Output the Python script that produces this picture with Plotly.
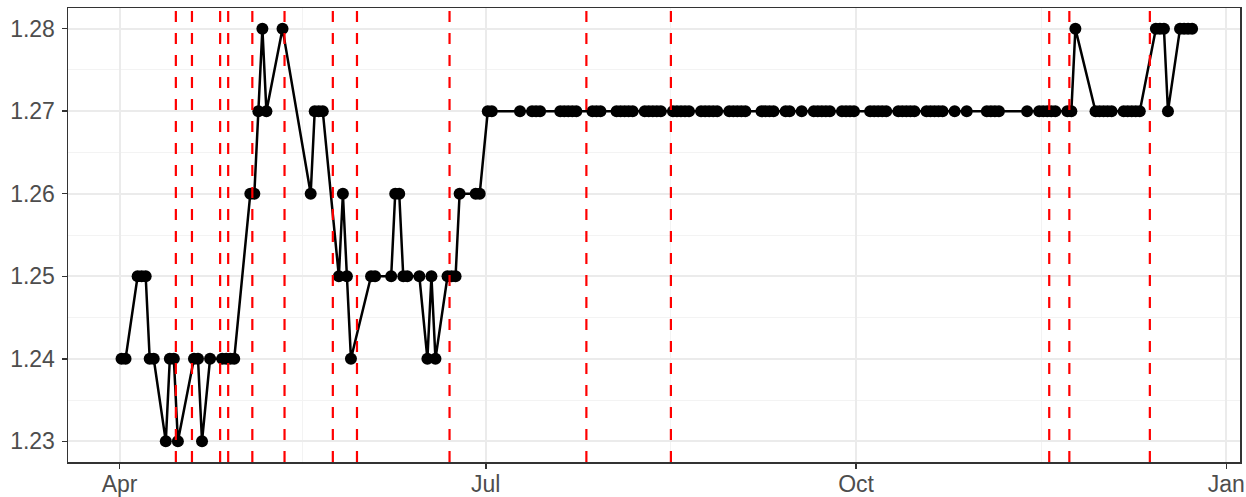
import pandas as pd
import plotly.graph_objects as go

# ---- data ----
dates = [
    "2021-04-01", "2021-04-02", "2021-04-05", "2021-04-06", "2021-04-07",
    "2021-04-08", "2021-04-09", "2021-04-12", "2021-04-13", "2021-04-14",
    "2021-04-15", "2021-04-19", "2021-04-20", "2021-04-21", "2021-04-23",
    "2021-04-26", "2021-04-27", "2021-04-28", "2021-04-29",
    "2021-05-03", "2021-05-04", "2021-05-05", "2021-05-06", "2021-05-07",
    "2021-05-11", "2021-05-18", "2021-05-19", "2021-05-20", "2021-05-21",
    "2021-05-25", "2021-05-26", "2021-05-27", "2021-05-28",
    "2021-06-02", "2021-06-03", "2021-06-07", "2021-06-08", "2021-06-09",
    "2021-06-10", "2021-06-11", "2021-06-14", "2021-06-16", "2021-06-17",
    "2021-06-18", "2021-06-21", "2021-06-22", "2021-06-23", "2021-06-24",
    "2021-06-28", "2021-06-29",
    "2021-07-01", "2021-07-02", "2021-07-09", "2021-07-12", "2021-07-13",
    "2021-07-14", "2021-07-19", "2021-07-20", "2021-07-21", "2021-07-22",
    "2021-07-23", "2021-07-27", "2021-07-28", "2021-07-29",
    "2021-08-02", "2021-08-03", "2021-08-04", "2021-08-05", "2021-08-06",
    "2021-08-09", "2021-08-10", "2021-08-11", "2021-08-12", "2021-08-13",
    "2021-08-16", "2021-08-17", "2021-08-18", "2021-08-19", "2021-08-20",
    "2021-08-23", "2021-08-24", "2021-08-25", "2021-08-26", "2021-08-27",
    "2021-08-30", "2021-08-31", "2021-09-01", "2021-09-02", "2021-09-03",
    "2021-09-07", "2021-09-08", "2021-09-09", "2021-09-10",
    "2021-09-13", "2021-09-14", "2021-09-17",
    "2021-09-20", "2021-09-21", "2021-09-22", "2021-09-23", "2021-09-24",
    "2021-09-27", "2021-09-28", "2021-09-29", "2021-09-30",
    "2021-10-04", "2021-10-05", "2021-10-06", "2021-10-07", "2021-10-08",
    "2021-10-11", "2021-10-12", "2021-10-13", "2021-10-14", "2021-10-15",
    "2021-10-18", "2021-10-19", "2021-10-20", "2021-10-21", "2021-10-22",
    "2021-10-25", "2021-10-28",
    "2021-11-02", "2021-11-03", "2021-11-04", "2021-11-05", "2021-11-12",
    "2021-11-15", "2021-11-16", "2021-11-17", "2021-11-18", "2021-11-19",
    "2021-11-22", "2021-11-23", "2021-11-24",
    "2021-11-29", "2021-11-30", "2021-12-01", "2021-12-02", "2021-12-03",
    "2021-12-06", "2021-12-07", "2021-12-08", "2021-12-09", "2021-12-10",
    "2021-12-14", "2021-12-15", "2021-12-16", "2021-12-17",
    "2021-12-20", "2021-12-21", "2021-12-22", "2021-12-23",
]

values = [
    1.24, 1.24, 1.25, 1.25, 1.25,
    1.24, 1.24, 1.23, 1.24, 1.24,
    1.23, 1.24, 1.24, 1.23, 1.24,
    1.24, 1.24, 1.24, 1.24,
    1.26, 1.26, 1.27, 1.28, 1.27,
    1.28, 1.26, 1.27, 1.27, 1.27,
    1.25, 1.26, 1.25, 1.24,
    1.25, 1.25, 1.25, 1.26, 1.26,
    1.25, 1.25, 1.25, 1.24, 1.25,
    1.24, 1.25, 1.25, 1.25, 1.26,
    1.26, 1.26,
    1.27, 1.27, 1.27, 1.27, 1.27,
    1.27, 1.27, 1.27, 1.27, 1.27,
    1.27, 1.27, 1.27, 1.27,
    1.27, 1.27, 1.27, 1.27, 1.27,
    1.27, 1.27, 1.27, 1.27, 1.27,
    1.27, 1.27, 1.27, 1.27, 1.27,
    1.27, 1.27, 1.27, 1.27, 1.27,
    1.27, 1.27, 1.27, 1.27, 1.27,
    1.27, 1.27, 1.27, 1.27,
    1.27, 1.27, 1.27,
    1.27, 1.27, 1.27, 1.27, 1.27,
    1.27, 1.27, 1.27, 1.27,
    1.27, 1.27, 1.27, 1.27, 1.27,
    1.27, 1.27, 1.27, 1.27, 1.27,
    1.27, 1.27, 1.27, 1.27, 1.27,
    1.27, 1.27,
    1.27, 1.27, 1.27, 1.27, 1.27,
    1.27, 1.27, 1.27, 1.27, 1.27,
    1.27, 1.27, 1.28,
    1.27, 1.27, 1.27, 1.27, 1.27,
    1.27, 1.27, 1.27, 1.27, 1.27,
    1.28, 1.28, 1.28, 1.27,
    1.28, 1.28, 1.28, 1.28,
]

event_dates = [
    "2021-04-15", "2021-04-19", "2021-04-26", "2021-04-28", "2021-05-04",
    "2021-05-12", "2021-05-24", "2021-05-30", "2021-06-22", "2021-07-26",
    "2021-08-16", "2021-11-18", "2021-11-23", "2021-12-13",
]

x_tick_dates = ["2021-04-01", "2021-07-01", "2021-10-01", "2022-01-01"]
x_tick_labels = ["Apr", "Jul", "Oct", "Jan"]
y_ticks = [1.23, 1.24, 1.25, 1.26, 1.27, 1.28]

# ---- build ----
x = pd.to_datetime(dates) + pd.Timedelta(hours=12)
xt = pd.to_datetime(x_tick_dates)
x_minor = [xt[i] + (xt[i + 1] - xt[i]) / 2 for i in range(len(xt) - 1)]
y_minor = [(y_ticks[i] + y_ticks[i + 1]) / 2 for i in range(len(y_ticks) - 1)]

x_min = pd.Timestamp("2021-04-01") - pd.Timedelta(days=12.8)
x_max = pd.Timestamp("2021-04-01") + pd.Timedelta(days=278.4)

fig = go.Figure()
fig.add_trace(go.Scatter(
    x=x, y=values, mode="lines+markers",
    line=dict(color="black", width=2.5),
    marker=dict(color="black", size=12, line=dict(width=0)),
    showlegend=False, hoverinfo="skip",
))

for d in event_dates:
    fig.add_shape(
        type="line", xref="x", yref="paper",
        x0=d, x1=d, y0=0, y1=1,
        line=dict(color="#FF0000", width=2.2, dash="11px,11px"),
        layer="above",
    )

grid_major = "#EBEBEB"
grid_minor = "#F3F3F3"
axis_col = "#333333"
font = dict(family="Liberation Sans, Arial, sans-serif", size=23, color="#4D4D4D")

fig.update_layout(
    width=1246, height=497,
    margin=dict(l=68, r=6, t=8, b=35, pad=0),
    paper_bgcolor="white", plot_bgcolor="white",
    font=font,
    showlegend=False,
)
fig.update_xaxes(
    type="date", automargin=False,
    range=[x_min, x_max],
    tickmode="array", tickvals=xt, ticktext=x_tick_labels,
    ticks="outside", ticklen=5, tickwidth=1.5, tickcolor=axis_col,
    ticklabelstandoff=-4,
    showgrid=True, gridcolor=grid_major, gridwidth=2,
    minor=dict(tickmode="array", tickvals=x_minor, showgrid=True,
               gridcolor=grid_minor, gridwidth=1, ticks=""),
    showline=True, linecolor=axis_col, linewidth=1.5, mirror=True,
    zeroline=False, tickfont=font,
)
fig.update_yaxes(
    automargin=False,
    range=[1.2275, 1.2825],
    tickmode="array", tickvals=y_ticks, ticktext=[f"{v:.2f}" for v in y_ticks],
    ticks="outside", ticklen=5, tickwidth=1.5, tickcolor=axis_col,
    ticklabelstandoff=2,
    showgrid=True, gridcolor=grid_major, gridwidth=2,
    minor=dict(tickmode="array", tickvals=y_minor, showgrid=True,
               gridcolor=grid_minor, gridwidth=1, ticks=""),
    showline=True, linecolor=axis_col, linewidth=1.5, mirror=True,
    zeroline=False, tickfont=font,
)

fig.write_html(
    "out.html",
    config={"displayModeBar": False, "staticPlot": True},
    post_script="document.body.style.margin='0';document.body.style.overflow='hidden';",
)
